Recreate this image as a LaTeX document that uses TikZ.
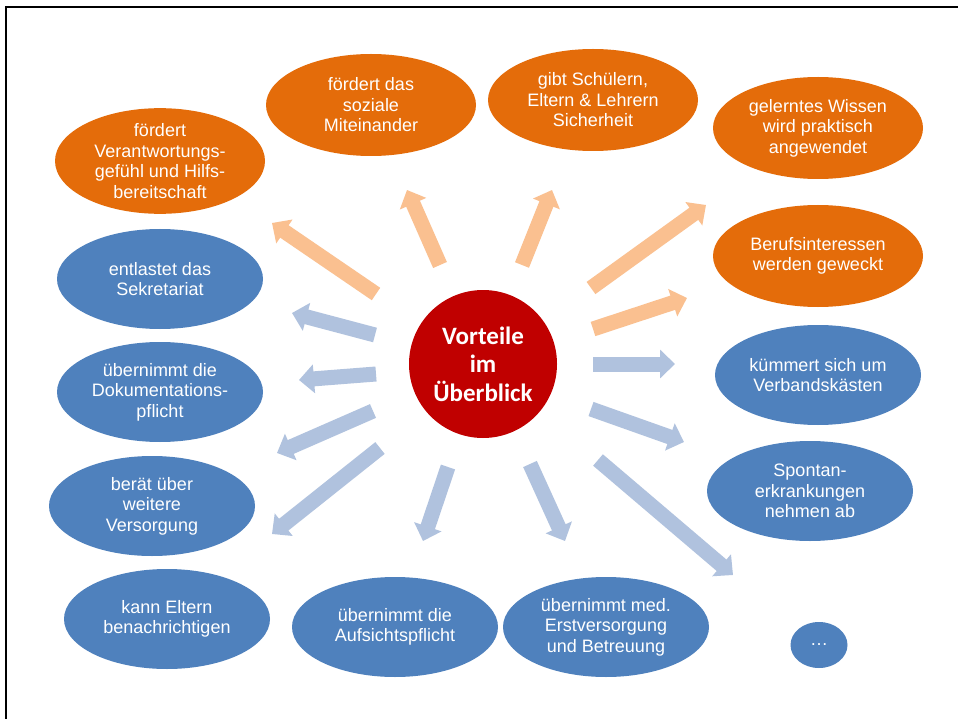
\documentclass[tikz,border=0pt]{standalone}
\usepackage{fontspec}
\setmainfont{Liberation Sans}
\newfontfamily\titlefont{Carlito}
\usetikzlibrary{shapes.geometric,arrows.meta}
\definecolor{orangeD}{HTML}{E46C0A}
\definecolor{orangeL}{HTML}{FAC090}
\definecolor{blueD}{HTML}{4F81BD}
\definecolor{blueL}{HTML}{B0C2DE}
\definecolor{redC}{HTML}{C00000}
\tikzset{
  bubble/.style={ellipse, inner sep=0pt, minimum width=210pt, minimum height=102pt,
    text=white, align=center, font=\fontsize{18}{20.5}\selectfont},
  obub/.style={bubble, fill=orangeD},
  bbub/.style={bubble, fill=blueD, minimum width=206pt, minimum height=100pt},
  barrow/.style={line width=15pt, -{Triangle[width=28pt,length=15pt]}},
  oarrow/.style={barrow, draw=orangeL, color=orangeL},
  larrow/.style={barrow, draw=blueL, color=blueL},
}
\begin{document}
\begin{tikzpicture}[x=1pt,y=-1pt]
\useasboundingbox (0,0) rectangle (958,719);
\fill[white] (0,0) rectangle (958,719);
\draw[line width=2.5pt] (6,719) -- (6,7) -- (958,7);

% centre
\node[circle, fill=redC, minimum size=148pt, inner sep=0pt, text=white, align=center,
  font=\titlefont\bfseries\fontsize{25}{28.5}\selectfont] (c) at (483,364) {Vorteile\\im\\Überblick};

% orange bubbles
\node[obub] (o1) at (160,161) {fördert\\Verantwortungs-\\gefühl und Hilfs-\\bereitschaft};
\node[obub] (o2) at (371,105) {fördert das\\soziale\\Miteinander};
\node[obub] (o3) at (593,100) {gibt Schülern,\\Eltern \& Lehrern\\Sicherheit};
\node[obub] (o4) at (818,128) {gelerntes Wissen\\wird praktisch\\angewendet};
\node[obub] (o5) at (818,256) {Berufsinteressen\\werden geweckt};

% blue bubbles
\node[bbub] (b1) at (160,279) {entlastet das\\Sekretariat};
\node[bbub] (b2) at (160,392) {übernimmt die\\Dokumentations-\\pflicht};
\node[bbub] (b3) at (152,506) {berät über\\weitere\\Versorgung};
\node[bbub] (b4) at (167,619) {kann Eltern\\benachrichtigen};
\node[bbub] (b5) at (395,627) {übernimmt die\\Aufsichtspflicht};
\node[bbub] (b6) at (606,627) {übernimmt med.\\Erstversorgung\\und Betreuung};
\node[bbub, minimum width=57pt, minimum height=46pt] (b7) at (819,645) {…};
\node[bbub] (b8) at (810,491) {Spontan-\\erkrankungen\\nehmen ab};
\node[bbub] (b9) at (818,375) {kümmert sich um\\Verbandskästen};

% arrow end points
\coordinate (s1) at (376,294); \coordinate (e1) at (272,223);
\coordinate (s2) at (440,265); \coordinate (e2) at (407,190);
\coordinate (s3) at (522,265); \coordinate (e3) at (552,190);
\coordinate (s4) at (591,288); \coordinate (e4) at (706,205);
\coordinate (s5) at (593,329); \coordinate (e5) at (687,298);
\coordinate (s6) at (593,364); \coordinate (e6) at (675,364);
\coordinate (s7) at (591,409); \coordinate (e7) at (684,442);
\coordinate (s8) at (598,460); \coordinate (e8) at (733,575);
\coordinate (s9) at (530,464); \coordinate (e9) at (565,541);
\coordinate (s10) at (448,467); \coordinate (e10) at (423,541);
\coordinate (s11) at (380,448); \coordinate (e11) at (272,534);
\coordinate (s12) at (373,411); \coordinate (e12) at (277,453);
\coordinate (s13) at (376,374); \coordinate (e13) at (299,380);
\coordinate (s14) at (375,335); \coordinate (e14) at (292,313);

\draw[oarrow] (s1) -- (e1);
\draw[oarrow] (s2) -- (e2);
\draw[oarrow] (s3) -- (e3);
\draw[oarrow] (s4) -- (e4);
\draw[oarrow] (s5) -- (e5);
\draw[larrow] (s6) -- (e6);
\draw[larrow] (s7) -- (e7);
\draw[larrow] (s8) -- (e8);
\draw[larrow] (s9) -- (e9);
\draw[larrow] (s10) -- (e10);
\draw[larrow] (s11) -- (e11);
\draw[larrow] (s12) -- (e12);
\draw[larrow] (s13) -- (e13);
\draw[larrow] (s14) -- (e14);
\end{tikzpicture}
\end{document}
